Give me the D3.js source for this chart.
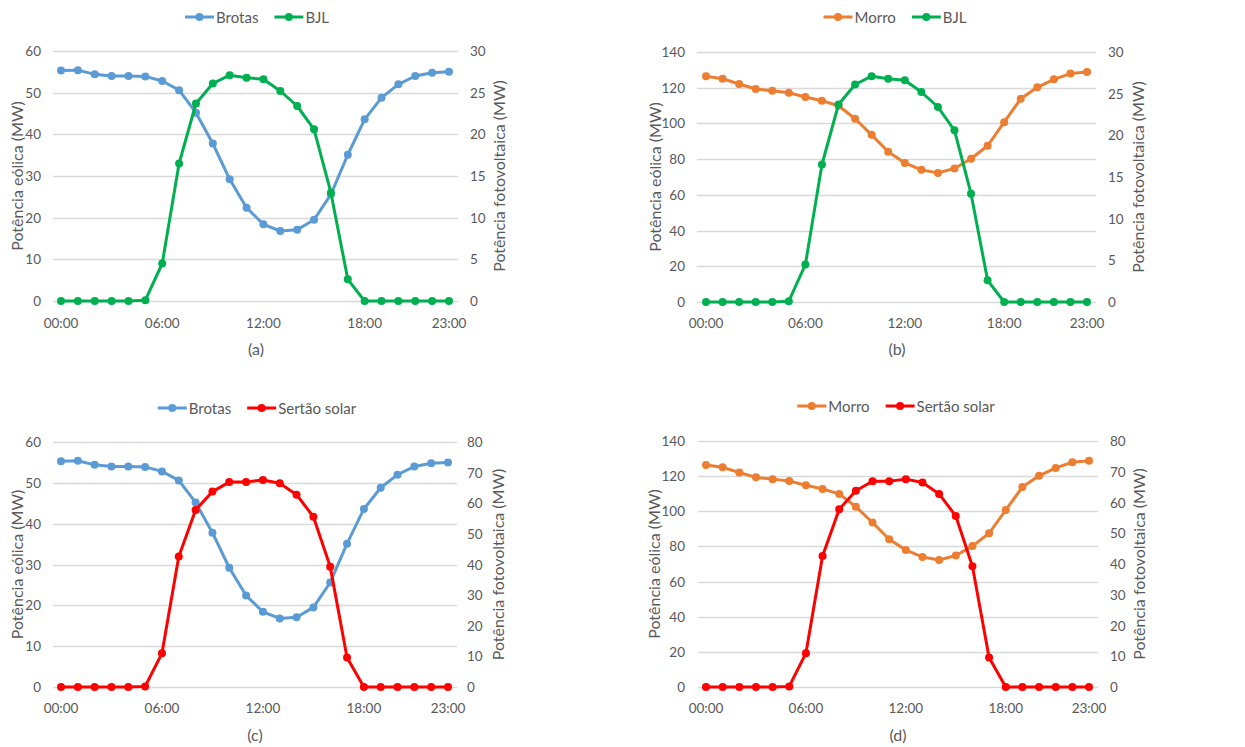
<!DOCTYPE html>
<html><head><meta charset="utf-8">
<script src="https://cdn.jsdelivr.net/npm/d3@7"></script>
<style>body{margin:0;background:#fff}svg{display:block}text{font-family:Lato,"Open Sans",sans-serif;fill:#595959}</style>
</head><body>
<svg id="c" width="1245" height="747"></svg>
<script>
const hours = d3.range(24);
const xTickLabels = ["00:00","06:00","12:00","18:00","23:00"];
const xTickHours = [0,6,12,18,23];
const brotas = [55.3,55.4,54.4,54.0,54.0,53.9,52.8,50.6,45.2,37.8,29.2,22.4,18.4,16.8,17.1,19.5,25.6,35.1,43.6,48.8,52.0,54.0,54.8,55.0];
const morro = [126.4,125.0,122.1,119.3,118.3,117.2,114.8,112.7,109.9,102.6,93.6,84.1,77.9,74.0,72.3,74.8,80.2,87.5,100.7,113.8,120.2,124.7,127.9,128.8];
const bjl = [0,0,0,0,0,0.1,4.5,16.5,23.7,26.1,27.1,26.8,26.6,25.2,23.4,20.6,13.0,2.6,0,0,0,0,0,0];
const sertao = [0,0,0,0,0,0.2,11.0,42.6,57.8,63.8,66.9,66.9,67.6,66.5,62.8,55.6,39.3,9.6,0,0,0,0,0,0];
const leftTitle = "Potência eólica (MW)";
const rightTitle = "Potência fotovoltaica (MW)";

const panels = [
 {label:"(a)", wind:{name:"Brotas",vals:brotas,color:"#5B9BD5"}, pv:{name:"BJL",vals:bjl,color:"#00B050"},
  lmax:60,lstep:10,rmax:30,rstep:5, gx0:53,gx1:458, x0:61,x1:449, yTop:51,yBot:301, lTickX:41, rTickX:470, lTitleX:16, rTitleX:498, legY:17, legCx:257, xLabY:323, capY:348, capX:256},
 {label:"(b)", wind:{name:"Morro",vals:morro,color:"#ED7D31"}, pv:{name:"BJL",vals:bjl,color:"#00B050"},
  lmax:140,lstep:20,rmax:30,rstep:5, gx0:697,gx1:1096, x0:706,x1:1087, yTop:52,yBot:302, lTickX:685, rTickX:1108, lTitleX:654, rTitleX:1137, legY:17, legCx:895, xLabY:323, capY:348, capX:897},
 {label:"(c)", wind:{name:"Brotas",vals:brotas,color:"#5B9BD5"}, pv:{name:"Sertão solar",vals:sertao,color:"#FF0000"},
  lmax:60,lstep:10,rmax:80,rstep:10, gx0:53,gx1:457, x0:61,x1:448, yTop:442,yBot:687, lTickX:41, rTickX:467, lTitleX:16, rTitleX:497, legY:408, legCx:257, xLabY:708, capY:734, capX:255},
 {label:"(d)", wind:{name:"Morro",vals:morro,color:"#ED7D31"}, pv:{name:"Sertão solar",vals:sertao,color:"#FF0000"},
  lmax:140,lstep:20,rmax:80,rstep:10, gx0:698,gx1:1098, x0:706,x1:1089, yTop:441,yBot:687, lTickX:685, rTickX:1110, lTitleX:653, rTitleX:1138, legY:406, legCx:896, xLabY:708, capY:734, capX:898}
];

const svg = d3.select("#c");
const FS = 13.5, FT = 16, FL = 15;

panels.forEach(p => {
  const g = svg.append("g");
  const x = d3.scaleLinear().domain([0,23]).range([p.x0,p.x1]);
  const yl = d3.scaleLinear().domain([0,p.lmax]).range([p.yBot,p.yTop]);
  const yr = d3.scaleLinear().domain([0,p.rmax]).range([p.yBot,p.yTop]);
  const lt = d3.range(0,p.lmax+0.001,p.lstep);
  const rt = d3.range(0,p.rmax+0.001,p.rstep);
  g.selectAll("line.grid").data(lt).join("line")
    .attr("x1",p.gx0).attr("x2",p.gx1).attr("y1",d=>Math.round(yl(d))+0.5).attr("y2",d=>Math.round(yl(d))+0.5)
    .attr("stroke","#D9D9D9").attr("stroke-width",1.3);
  g.selectAll("text.lt").data(lt).join("text")
    .attr("x",p.lTickX).attr("y",d=>yl(d)).attr("text-anchor","end").attr("dominant-baseline","central")
    .attr("font-size",FS).text(d=>d);
  g.selectAll("text.rt").data(rt).join("text")
    .attr("x",p.rTickX).attr("y",d=>yr(d)).attr("text-anchor","start").attr("dominant-baseline","central")
    .attr("font-size",FS).text(d=>d);
  g.selectAll("text.xt").data(xTickHours).join("text")
    .attr("x",d=>x(d)).attr("y",p.xLabY).attr("text-anchor","middle").attr("dominant-baseline","central")
    .attr("font-size",FS).text((d,i)=>xTickLabels[i]);
  const cy = (p.yTop+p.yBot)/2;
  g.append("text").attr("transform",`translate(${p.lTitleX},${cy}) rotate(-90)`).attr("text-anchor","middle")
    .attr("dominant-baseline","central").attr("font-size",FT).text(leftTitle);
  g.append("text").attr("transform",`translate(${p.rTitleX},${cy}) rotate(-90)`).attr("text-anchor","middle")
    .attr("dominant-baseline","central").attr("font-size",FT).text(rightTitle);
  g.append("text").attr("x",p.capX).attr("y",p.capY).attr("text-anchor","middle").attr("dominant-baseline","central")
    .attr("font-size",FT).text(p.label);
  const drawSeries = (s, ys) => {
    const line = d3.line().x((d,i)=>x(i)).y(d=>ys(d));
    g.append("path").datum(s.vals).attr("d",line).attr("fill","none").attr("stroke",s.color)
      .attr("stroke-width",3).attr("stroke-linejoin","round").attr("stroke-linecap","round");
    g.append("g").selectAll("circle").data(s.vals).join("circle")
      .attr("cx",(d,i)=>x(i)).attr("cy",d=>ys(d)).attr("r",4).attr("fill",s.color);
  };
  drawSeries(p.wind, yl);
  drawSeries(p.pv, yr);
  const lg = g.append("g");
  const items = [p.wind,p.pv];
  let cur = 0;
  items.forEach((s,i) => {
    const ig = lg.append("g").attr("transform",`translate(${cur},0)`);
    ig.append("line").attr("x1",0).attr("x2",29).attr("y1",0).attr("y2",0).attr("stroke",s.color).attr("stroke-width",3);
    ig.append("circle").attr("cx",14.5).attr("cy",0).attr("r",4).attr("fill",s.color);
    const t = ig.append("text").attr("x",31).attr("y",0).attr("dominant-baseline","central").attr("font-size",FL).text(s.name);
    const w = t.node().getComputedTextLength();
    cur += 31 + w + (i===0?16:0);
  });
  lg.attr("transform",`translate(${p.legCx - cur/2},${p.legY})`);
});
</script>
</body></html>
